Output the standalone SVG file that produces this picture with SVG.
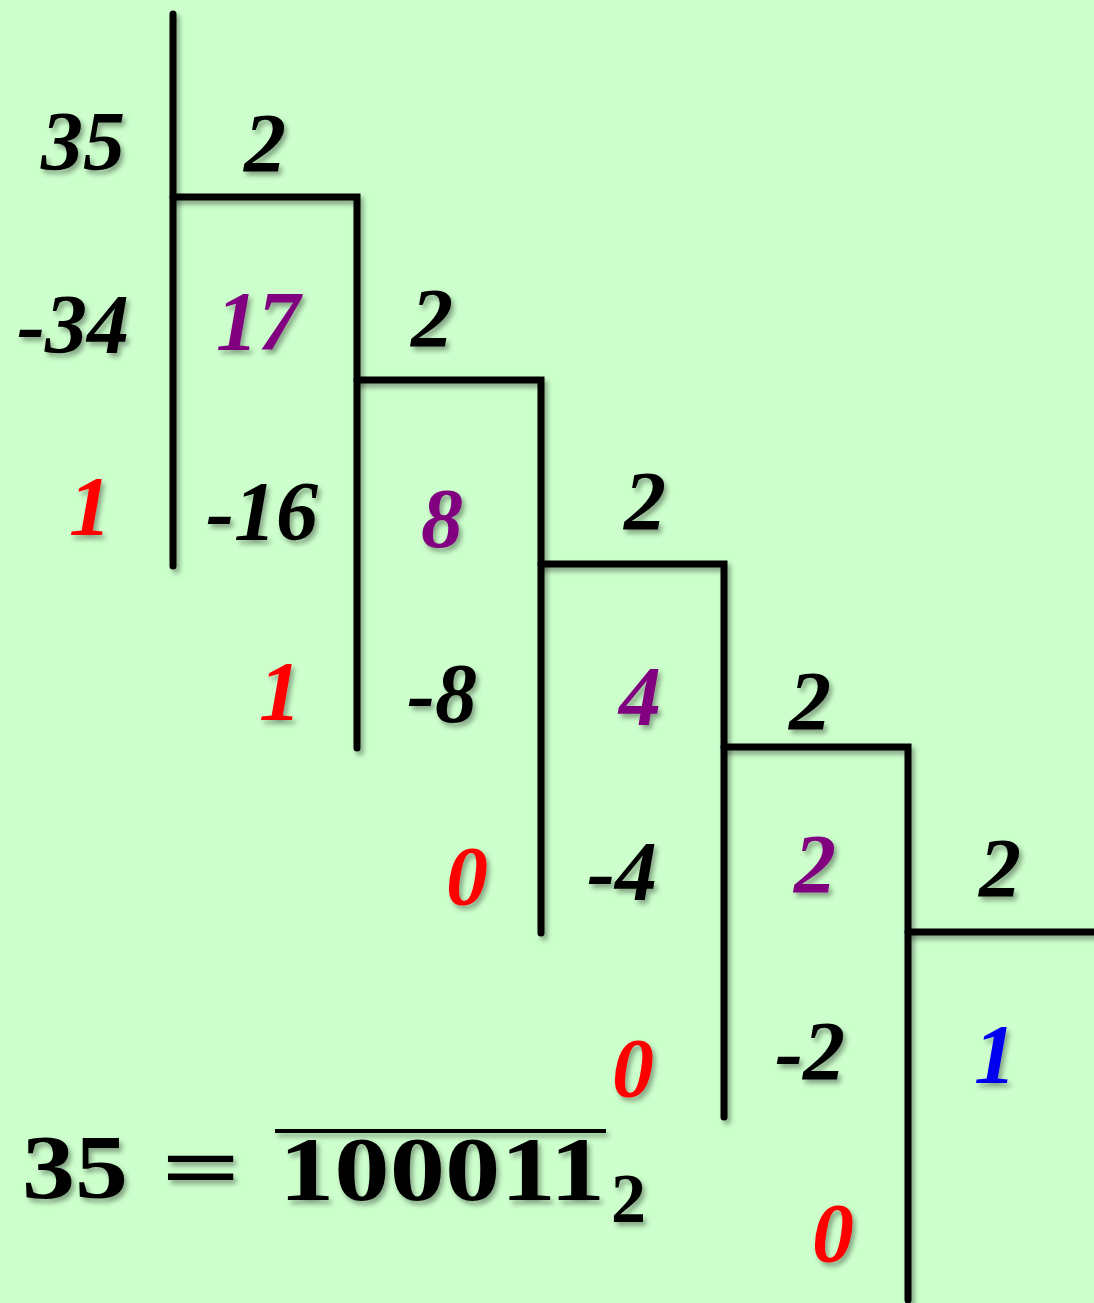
<svg xmlns="http://www.w3.org/2000/svg" width="1094" height="1303" viewBox="0 0 1094 1303">
<defs>
<filter id="sh" filterUnits="userSpaceOnUse" x="0" y="0" width="1094" height="1303">
<feDropShadow dx="3" dy="4" stdDeviation="2.5" flood-color="#000" flood-opacity="0.35"/>
</filter>
</defs>
<style>
.n{font-family:"Liberation Serif","Times New Roman",serif;font-weight:bold;font-style:italic;font-size:84px;text-anchor:middle;filter:url(#sh)}
.k{fill:#000}
.p{fill:#800080}
.r{fill:#ff0000}
.b{fill:#0000ee}
.eq{font-family:"Liberation Serif","Times New Roman",serif;font-weight:bold;font-size:92px;fill:#000;filter:url(#sh)}
.ln{stroke:#000;stroke-width:7;fill:none;stroke-linecap:round;stroke-linejoin:miter;filter:url(#sh)}
</style>
<rect width="1094" height="1303" fill="#ccffcc"/>
<g id="connectors">
<path class="ln" d="M173 14 V566"/>
<path class="ln" d="M173 197 H357 V748"/>
<path class="ln" d="M357 380 H541 V933"/>
<path class="ln" d="M541 564 H724 V1117"/>
<path class="ln" d="M724 747 H908 V1300"/>
<path class="ln" d="M908 932 H1094"/>
</g>
<g id="step1">
<text class="n k" x="83" y="170">35</text>
<text class="n k" x="265" y="172">2</text>
<text class="n k" x="73" y="353">-34</text>
<text class="n p" x="258" y="350">17</text>
<text class="n r" x="90" y="535">1</text>
</g>
<g id="step2">
<text class="n k" x="432" y="347">2</text>
<text class="n k" x="262" y="540">-16</text>
<text class="n p" x="442" y="547">8</text>
<text class="n r" x="280" y="720">1</text>
</g>
<g id="step3">
<text class="n k" x="645" y="530">2</text>
<text class="n k" x="442" y="722">-8</text>
<text class="n p" x="640" y="725">4</text>
<text class="n r" x="467" y="905">0</text>
</g>
<g id="step4">
<text class="n k" x="810" y="730">2</text>
<text class="n k" x="622" y="900">-4</text>
<text class="n p" x="815" y="893">2</text>
<text class="n r" x="633" y="1097">0</text>
</g>
<g id="step5">
<text class="n k" x="1000" y="897">2</text>
<text class="n k" x="810" y="1080">-2</text>
<text class="n b" x="995" y="1083">1</text>
<text class="n r" x="833" y="1262">0</text>
</g>
<g id="result">
<text class="eq" x="22" y="1198" textLength="106" lengthAdjust="spacingAndGlyphs">35</text>
<text class="eq" x="161" y="1198" textLength="80" lengthAdjust="spacingAndGlyphs">=</text>
<line x1="275" y1="1131" x2="606" y2="1131" stroke="#000" stroke-width="4" filter="url(#sh)"/>
<text class="eq" x="279" y="1200" textLength="326" lengthAdjust="spacingAndGlyphs">100011</text>
<text class="eq" x="611" y="1222" style="font-size:70px">2</text>
</g>
</svg>
